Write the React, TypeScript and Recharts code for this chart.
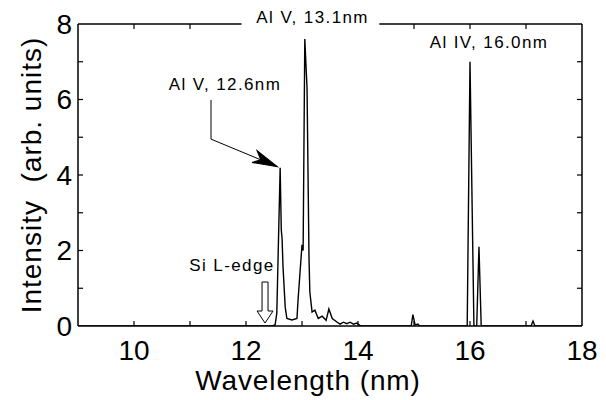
import React from 'react';
import { LineChart, Line, XAxis, YAxis, ReferenceLine, ReferenceDot } from 'recharts';

const FONT = '"Liberation Sans", Arial, Helvetica, sans-serif';

// Spectrum: wavelength (nm) and intensity (arb. units)
const wavelengths = [
  9.0, 12.46, 12.52, 12.55, 12.61, 12.63, 12.645, 12.66, 12.7, 12.73,
  12.82, 12.91, 12.93, 13.0, 13.02, 13.05, 13.09, 13.125, 13.14, 13.18,
  13.23, 13.29, 13.36, 13.43, 13.48, 13.54, 13.63, 13.68, 13.74, 13.8,
  13.86, 13.92, 13.98, 14.05, 14.95, 14.98, 15.02, 15.07, 15.1, 15.95,
  16.0, 16.07, 16.12, 16.16, 16.2, 17.09, 17.125, 17.16, 18.0,
];
const intensities = [
  0, 0, 0.03, 0.34, 4.19, 2.55, 2.3, 1.6, 0.5, 0.2,
  0.16, 0.2, 0.7, 2.15, 2.0, 7.6, 6.3, 1.8, 0.9, 0.37,
  0.42, 0.2, 0.26, 0.15, 0.45, 0.2, 0.1, 0.05, 0.1, 0.06,
  0.1, 0.05, 0.08, 0, 0, 0.3, 0.03, 0.05, 0, 0,
  7.0, 0, 0, 2.1, 0, 0, 0.13, 0, 0,
];

const xLabelTicks = [10, 12, 14, 16, 18];
const xMinorTicks = [10, 11, 12, 13, 14, 15, 16, 17];
const xTopTicks = [10, 11, 15, 16, 17];
const yLabelTicks = [0, 2, 4, 6, 8];
const yMinorTicks = [1, 2, 3, 4, 5, 6, 7];

const X_MIN = 9;
const X_MAX = 18;
const Y_MIN = 0;
const Y_MAX = 8;
// inward tick lengths expressed in data units (~5px)
const TICK_DX = 0.09;
const TICK_DY = 0.13;

// Annotations (data coordinates)
const annotations = [
  { text: 'Al V, 13.1nm', x: 13.19, y: 8, dy: -1 },
  { text: 'Al V, 12.6nm', x: 11.625, y: 6.25, dy: 0 },
  { text: 'Al IV, 16.0nm', x: 16.34, y: 7.36, dy: 0 },
  { text: 'Si L-edge', x: 11.75, y: 1.46, dy: 0 },
];
const topGapStart = 11.92;
const topGapEnd = 14.38;
const leaderTop = { x: 11.375, y: 5.99 };
const leaderBend = { x: 11.375, y: 4.95 };
const leaderTip = { x: 12.56, y: 4.22 };
const siEdge = { x: 12.34, y: 0 };

const data = wavelengths.map((w, i) => ({ w, v: intensities[i] }));

const tickStyle = { fontSize: 28, fill: '#000', fontFamily: FONT };

const XTitle = (props: any) => {
  const vb = props.viewBox || {};
  return (
    <text
      x={vb.x + vb.width / 2 - 22}
      y={vb.y + 64}
      textAnchor="middle"
      fontSize={28}
      fontFamily={FONT}
      letterSpacing={0.9}
      fill="#000"
    >
      Wavelength (nm)
    </text>
  );
};

const YTitle = (props: any) => {
  const vb = props.viewBox || {};
  const cx = vb.x + 31;
  const cy = vb.y + vb.height / 2;
  return (
    <text
      x={cx}
      y={cy}
      transform={`rotate(-90, ${cx}, ${cy})`}
      textAnchor="middle"
      dominantBaseline="central"
      fontSize={28}
      fontFamily={FONT}
      letterSpacing={1}
      fill="#000"
    >
      {'Intensity\u00a0 (arb. units)'}
    </text>
  );
};

const textShape = (text: string, dy: number) => (p: any) => (
  <text
    x={p.cx}
    y={p.cy + dy}
    textAnchor="middle"
    fontSize={17}
    letterSpacing={1.4}
    fontFamily={FONT}
    fill="#000"
  >
    {text}
  </text>
);

const ArrowHead = (p: any) => (
  <polygon
    points="0,0 -25,-7 -18,0 -25,6"
    transform={`translate(${p.cx}, ${p.cy}) rotate(22.8)`}
    fill="#000"
    stroke="#000"
    strokeWidth={1}
  />
);

const HollowArrow = (p: any) => (
  <polygon
    points="0,0 -8,-12 -3,-12 -3,-41 3,-41 3,-12 8,-12"
    transform={`translate(${p.cx}, ${p.cy - 3})`}
    fill="#fff"
    stroke="#000"
    strokeWidth={1}
  />
);

const seg = (key: string, a: { x: number; y: number }, b: { x: number; y: number }, w = 1.2) => (
  <ReferenceLine
    key={key}
    xAxisId="main"
    yAxisId="main"
    segment={[a, b]}
    stroke="#000"
    strokeWidth={w}
    ifOverflow="visible"
  />
);

export default function App() {
  return (
    <div style={{ position: 'absolute', left: 0, top: 0, background: '#fff' }}>
      <LineChart
        width={606}
        height={400}
        data={data}
        margin={{ top: 24, right: 24, left: 0, bottom: 0 }}
      >
        <XAxis
          xAxisId="main"
          dataKey="w"
          type="number"
          domain={[X_MIN, X_MAX]}
          ticks={xLabelTicks}
          interval={0}
          allowDataOverflow
          height={74}
          tickLine={false}
          tickSize={0}
          tickMargin={14}
          tick={tickStyle}
          axisLine={{ stroke: '#000', strokeWidth: 1.5 }}
          label={{ content: XTitle }}
        />
        <YAxis
          yAxisId="main"
          type="number"
          domain={[Y_MIN, Y_MAX]}
          ticks={yLabelTicks}
          interval={0}
          allowDataOverflow
          width={78}
          tickLine={false}
          tickSize={0}
          tickMargin={6}
          tick={tickStyle}
          axisLine={{ stroke: '#000', strokeWidth: 1.5 }}
          label={{ content: YTitle }}
        />
        {/* frame: right border and broken top border */}
        {seg('right', { x: X_MAX, y: Y_MIN }, { x: X_MAX, y: Y_MAX }, 1.5)}
        {seg('top1', { x: X_MIN, y: Y_MAX }, { x: topGapStart, y: Y_MAX }, 1.5)}
        {seg('top2', { x: topGapEnd, y: Y_MAX }, { x: X_MAX, y: Y_MAX }, 1.5)}
        {/* inward minor ticks */}
        {xMinorTicks.map((t) => seg(`bt${t}`, { x: t, y: Y_MIN }, { x: t, y: Y_MIN + TICK_DY }))}
        {xTopTicks.map((t) => seg(`tt${t}`, { x: t, y: Y_MAX }, { x: t, y: Y_MAX - TICK_DY }))}
        {yMinorTicks.map((t) => seg(`lt${t}`, { x: X_MIN, y: t }, { x: X_MIN + TICK_DX, y: t }))}
        {yMinorTicks.map((t) => seg(`rt${t}`, { x: X_MAX, y: t }, { x: X_MAX - TICK_DX, y: t }))}
        {/* leader line for the 12.6 nm label */}
        {seg('lead1', leaderTop, leaderBend, 1)}
        {seg('lead2', leaderBend, leaderTip, 1)}
        <Line
          xAxisId="main"
          yAxisId="main"
          type="linear"
          dataKey="v"
          stroke="#000"
          strokeWidth={1.4}
          dot={false}
          isAnimationActive={false}
        />
        <ReferenceDot
          xAxisId="main"
          yAxisId="main"
          x={leaderTip.x}
          y={leaderTip.y}
          shape={ArrowHead}
          ifOverflow="visible"
        />
        <ReferenceDot
          xAxisId="main"
          yAxisId="main"
          x={siEdge.x}
          y={siEdge.y}
          shape={HollowArrow}
          ifOverflow="visible"
        />
        {annotations.map((a) => (
          <ReferenceDot
            key={a.text}
            xAxisId="main"
            yAxisId="main"
            x={a.x}
            y={a.y}
            shape={textShape(a.text, a.dy)}
            ifOverflow="visible"
          />
        ))}
      </LineChart>
    </div>
  );
}
